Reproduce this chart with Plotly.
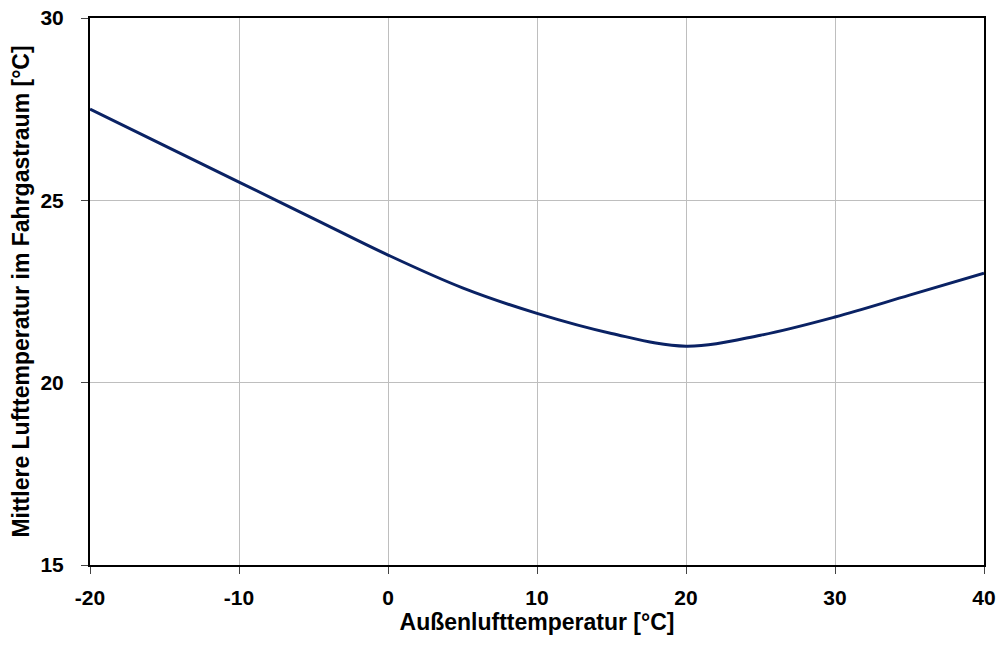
import plotly.graph_objects as go

# Outdoor air temperature [°C] and mean cabin air temperature [°C]
outdoor_temp = [-20, -15, -10, -5, 0, 5, 10, 15, 20, 25, 30, 35, 40]
cabin_temp = [27.5, 26.5, 25.5, 24.5, 23.5, 22.6, 21.9, 21.35, 21.0, 21.3, 21.8, 22.4, 23.0]

x_ticks = [-20, -10, 0, 10, 20, 30, 40]
y_ticks = [15, 20, 25, 30]

font_family = "Liberation Sans, Arial, sans-serif"

fig = go.Figure()
fig.add_trace(go.Scatter(
    x=outdoor_temp,
    y=cabin_temp,
    mode="lines",
    line=dict(color="#0A2264", width=3, shape="spline", smoothing=1.0),
    showlegend=False,
    hoverinfo="skip",
))

axis_common = dict(
    automargin=False,
    showgrid=True,
    gridcolor="#BEBEBE",
    gridwidth=1,
    showline=True,
    linecolor="black",
    linewidth=2,
    mirror=True,
    ticks="outside",
    ticklen=7,
    tickcolor="#444444",
    zeroline=False,
    tickfont=dict(family=font_family, size=21, color="black", weight="bold"),
)

fig.update_xaxes(
    range=[-20, 40],
    tickvals=x_ticks,
    ticktext=[str(v) for v in x_ticks],
    ticklabelstandoff=6,
    title=dict(text="<b>Außenlufttemperatur [°C]</b>", standoff=4,
               font=dict(family=font_family, size=23, color="black")),
    **axis_common,
)
fig.update_yaxes(
    range=[15, 30],
    tickvals=y_ticks,
    ticktext=[str(v) for v in y_ticks],
    ticklabelstandoff=13,
    title=dict(text="<b>Mittlere Lufttemperatur im Fahrgastraum [°C]</b>", standoff=4,
               font=dict(family=font_family, size=23, color="black")),
    **axis_common,
)

fig.update_layout(
    width=1001,
    height=650,
    margin=dict(l=90, r=17, t=18, b=85),
    paper_bgcolor="white",
    plot_bgcolor="white",
    font=dict(family=font_family, color="black"),
)

fig.write_html("out.html")
